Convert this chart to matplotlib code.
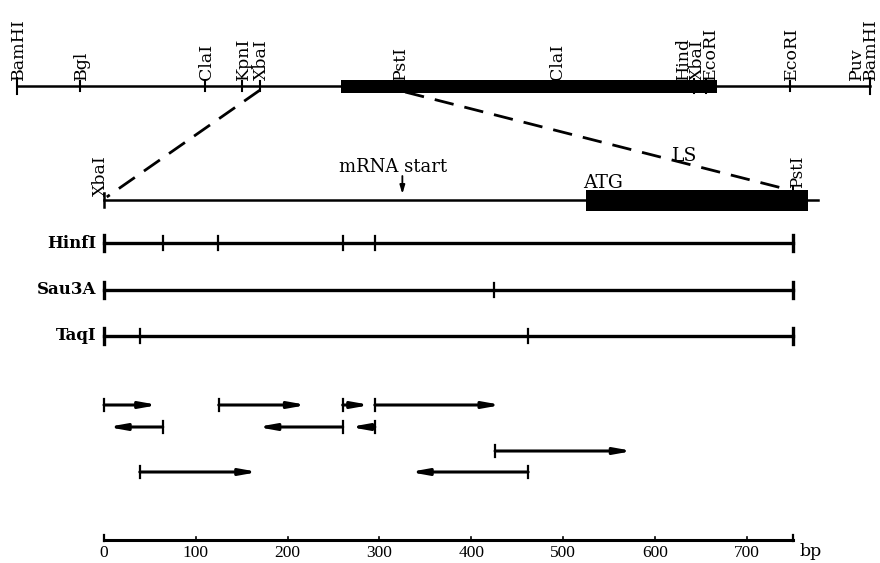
import matplotlib
matplotlib.use("Agg")
import matplotlib.pyplot as plt
from matplotlib.patches import Rectangle

plt.rcParams['font.family'] = ['DejaVu Serif', 'Liberation Serif']

# ---------------- data ----------------
# top map (arbitrary map units, 0..100 between the two BamHI ends)
top_sites = ["BamHI", "Bgl", "ClaI", "KpnI", "XbaI", "PstI", "ClaI",
             "Hind\nXbaI\nEcoRI", "EcoRI", "Puv\nBamHI"]
top_pos = [0.0, 7.4, 22.0, 26.4, 28.5, 44.8, 63.2, 80.6, 90.6, 100.0]
top_extra_ticks = [79.4, 80.8]
top_box = (38.0, 82.1)
top_link = (28.5, 45.5)          # XbaI ... PstI fragment

# fragment map (bp)
frag_len = 750
frag_line_end = 778
coding_box = (525, 767)
mrna_start = 325
atg_pos = 525

enzymes = ["HinfI", "Sau3A", "TaqI"]
enzyme_sites = [[64, 124, 260, 295], [425], [39, 462]]

# sequencing runs (start, end) in bp; direction from order
runs_row1 = [(0, 59), (125, 221), (260, 290), (295, 433)]
runs_row2 = [(64, 4), (260, 167), (295, 268)]
runs_row3 = [(426, 576)]
runs_row4 = [(39, 168), (462, 333)]

scale_ticks = [0, 100, 200, 300, 400, 500, 600, 700]
scale_labels = ["0", "100", "200", "300", "400", "500", "600", "700"]

# ---------------- figure ----------------
fig = plt.figure(figsize=(8.8, 5.63), dpi=100)
ax = fig.add_axes([0, 0, 1, 1])
ax.set_xlim(-113.3, 845.3)
ax.set_ylim(563, 0)
ax.axis('off')

PX = 0.918  # px per bp
def top_to_bp(u):
    return (17 + 8.53 * u - 104) / PX

k = 'black'
label_dx = {"Hind\nXbaI\nEcoRI": -7.5, "Puv\nBamHI": -6.5}

# ---- top map ----
y_top = 86
ax.plot([top_to_bp(0), top_to_bp(100)], [y_top, y_top], color=k, lw=1.8)
ax.add_patch(Rectangle((top_to_bp(top_box[0]), y_top - 6.5),
                       top_to_bp(top_box[1]) - top_to_bp(top_box[0]), 13,
                       color=k, lw=0))
for name, p in zip(top_sites, top_pos):
    x = top_to_bp(p)
    h = 8 if p in (0.0, 100.0) else 5
    ax.plot([x, x], [y_top - h, y_top + h], color=k, lw=1.5)
    dx = label_dx.get(name, 1.5)
    ax.text(x + dx / PX, y_top - 6, name,
            rotation=90, ha='center', va='bottom', fontsize=12.5,
            multialignment='left', linespacing=0.72)
for p in top_extra_ticks:
    x = top_to_bp(p)
    ax.plot([x, x], [y_top - 7, y_top + 7], color=k, lw=1.5)

# dashed links
y_mid = 200
ax.plot([top_to_bp(top_link[0]), 3], [y_top + 4, y_mid - 3],
        color=k, lw=2, dashes=(7, 4))
ax.plot([top_to_bp(top_link[1]), frag_len - 3], [y_top + 6, y_mid - 10],
        color=k, lw=2, dashes=(7, 4))
ax.text(633, 156, "LS", fontsize=13.5, ha='center', va='center')

# ---- fragment map ----
ax.plot([0, frag_line_end], [y_mid, y_mid], color=k, lw=1.8)
ax.plot([0, 0], [y_mid - 7, y_mid + 7], color=k, lw=1.8)
ax.add_patch(Rectangle((coding_box[0], y_mid - 10.5),
                       coding_box[1] - coding_box[0], 21, color=k, lw=0))
ax.plot([frag_len, frag_len], [y_mid - 14, y_mid - 8], color=k, lw=1.4)
ax.text(-4, y_mid - 4, "XbaI", rotation=90, ha='center', va='bottom', fontsize=12.5)
ax.text(frag_len + 6, y_mid - 12, "PstI", rotation=90, ha='center', va='bottom', fontsize=12)
ax.text(mrna_start - 10, 167, "mRNA start", ha='center', va='center', fontsize=13)
ax.annotate("", xy=(mrna_start, y_mid - 6), xytext=(mrna_start, 176),
            arrowprops=dict(arrowstyle='-|>,head_length=0.5,head_width=0.15',
                            color=k, lw=1.3, shrinkA=0, shrinkB=0))
ax.text(atg_pos - 3, 183, "ATG", ha='left', va='center', fontsize=13.5)

# ---- enzyme rows ----
rows_y = [243, 290, 336]
for name, sites, y in zip(enzymes, enzyme_sites, rows_y):
    ax.plot([0, frag_len], [y, y], color=k, lw=2.4)
    ax.plot([0, 0], [y - 8, y + 8], color=k, lw=2.4)
    ax.plot([frag_len, frag_len], [y - 8, y + 8], color=k, lw=2.4)
    for s in sites:
        ax.plot([s, s], [y - 7, y + 7], color=k, lw=1.6)
    ax.text(-8, y, name, ha='right', va='center', fontsize=12, fontweight='bold')

# ---- sequencing runs ----
def run(a, b, y):
    ax.plot([a, a], [y - 6, y + 6], color=k, lw=1.6)
    ax.annotate("", xy=(b, y), xytext=(a, y),
                arrowprops=dict(arrowstyle='-|>,head_length=1.0,head_width=0.18',
                                color=k, lw=2.2, shrinkA=0, shrinkB=0))

for runs, y in [(runs_row1, 405), (runs_row2, 427), (runs_row3, 451), (runs_row4, 472)]:
    for a, b in runs:
        run(a, b, y)

# ---- scale bar ----
y_s = 540
ax.plot([0, frag_len], [y_s, y_s], color=k, lw=2.2)
ax.plot([0, 0], [y_s - 5, y_s + 1], color=k, lw=1.6)
ax.plot([frag_len, frag_len], [y_s - 5, y_s + 1], color=k, lw=1.6)
for t, lab in zip(scale_ticks, scale_labels):
    if t != 0:
        ax.plot([t, t], [y_s - 3, y_s], color=k, lw=1.2)
    ax.text(t, 553, lab, ha='center', va='center', fontsize=12.5,
            family='Liberation Serif')
ax.text(frag_len + 7 / PX, 551, "bp", ha='left', va='center', fontsize=12.5)

fig.savefig("out.png", dpi=100)
